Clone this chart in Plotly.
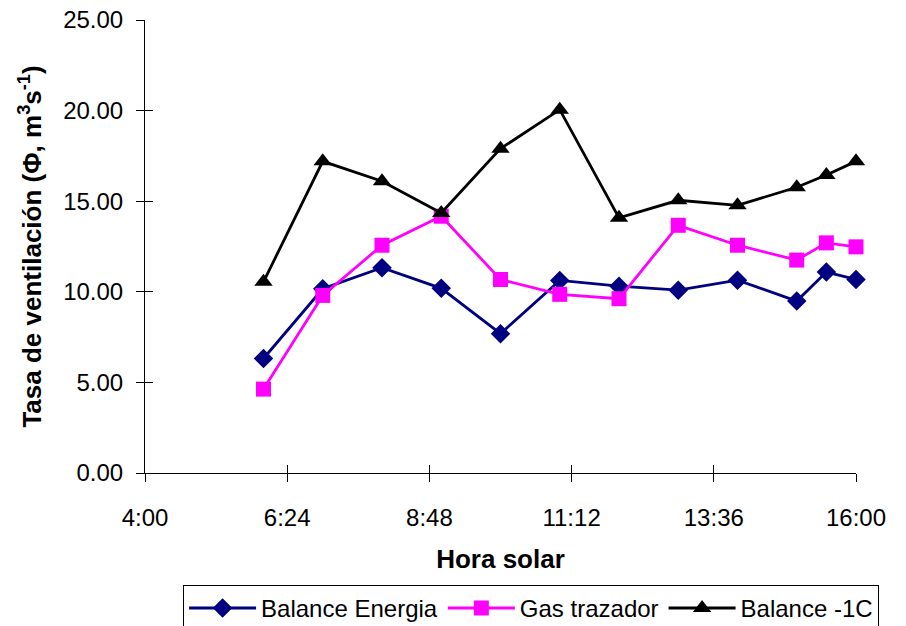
import plotly.graph_objects as go

# Solar hour (decimal hours)
hours = [6, 7, 8, 9, 10, 11, 12, 13, 14, 15, 15.5, 16]
balance_energia = [6.32, 10.17, 11.33, 10.19, 7.69, 10.63, 10.31, 10.09, 10.64, 9.49, 11.09, 10.68]
gas_trazador = [4.63, 9.80, 12.57, 14.17, 10.68, 9.86, 9.62, 13.67, 12.57, 11.75, 12.70, 12.48]
balance_1c = [10.55, 17.20, 16.10, 14.35, 17.90, 20.05, 14.08, 15.05, 14.77, 15.77, 16.45, 17.20]

x_tickvals = [4, 6.4, 8.8, 11.2, 13.6, 16]
x_ticktext = ["4:00", "6:24", "8:48", "11:12", "13:36", "16:00"]
y_tickvals = [0, 5, 10, 15, 20, 25]
y_ticktext = ["0.00", "5.00", "10.00", "15.00", "20.00", "25.00"]

FONT = "Liberation Sans, Arial, sans-serif"

fig = go.Figure()
fig.add_trace(go.Scatter(x=hours, y=balance_energia, name="Balance Energia", mode="lines+markers",
                         line=dict(color="#000080", width=2.8), cliponaxis=False,
                         marker=dict(symbol="diamond", size=15, color="#000080")))
fig.add_trace(go.Scatter(x=hours, y=gas_trazador, name="Gas trazador", mode="lines+markers",
                         line=dict(color="#FF00FF", width=2.8), cliponaxis=False,
                         marker=dict(symbol="square", size=15, color="#FF00FF")))
fig.add_trace(go.Scatter(x=hours, y=balance_1c, name="Balance -1C", mode="lines+markers",
                         line=dict(color="#000000", width=2.8), cliponaxis=False,
                         marker=dict(symbol="triangle-up", size=16, color="#000000")))

axis_common = dict(showgrid=False, zeroline=False, showline=True, linecolor="black", linewidth=1,
                   tickcolor="black", tickwidth=1, automargin=False)

fig.update_layout(
    width=906, height=626,
    margin=dict(l=145, r=50, t=20, b=153, autoexpand=False),
    paper_bgcolor="white", plot_bgcolor="white",
    font=dict(family=FONT, size=24, color="black"),
    xaxis=dict(range=[4, 16], tickvals=x_tickvals, ticktext=x_ticktext, ticks="outside", ticklen=8,
               ticklabelstandoff=15, tickfont=dict(size=24),
               title=dict(text="<b>Hora solar</b>", standoff=20, font=dict(size=26)),
               **axis_common),
    yaxis=dict(range=[0, 25], tickvals=y_tickvals, ticktext=y_ticktext, ticks="outside", ticklen=8,
               ticklabelstandoff=8, tickfont=dict(size=24),
               title=dict(text="<b>Tasa de ventilación (Φ, m<sup>3</sup>s<sup>-1</sup>)</b>", standoff=14,
                          font=dict(size=26)),
               **axis_common),
    xaxis2=dict(range=[4, 16], tickvals=x_tickvals, ticks="inside", ticklen=8, showticklabels=False,
                overlaying="x", side="bottom", anchor="y", matches="x", **axis_common),
    yaxis2=dict(range=[0, 25], tickvals=y_tickvals, ticks="inside", ticklen=8, showticklabels=False,
                overlaying="y", side="left", anchor="x", matches="y", **axis_common),
    legend=dict(orientation="h", x=0.543, xanchor="center", y=-0.247, yanchor="top",
                bordercolor="black", borderwidth=1, font=dict(size=24), bgcolor="white",
                itemwidth=67, traceorder="normal"),
    showlegend=True,
)

# invisible helper trace to activate the overlay axes (inside tick marks)
fig.add_trace(go.Scatter(x=[None], y=[None], xaxis="x2", yaxis="y2", showlegend=False, hoverinfo="skip"))

fig.write_html("out.html", config={"displayModeBar": False},
               post_script="document.body.style.margin='0';")
